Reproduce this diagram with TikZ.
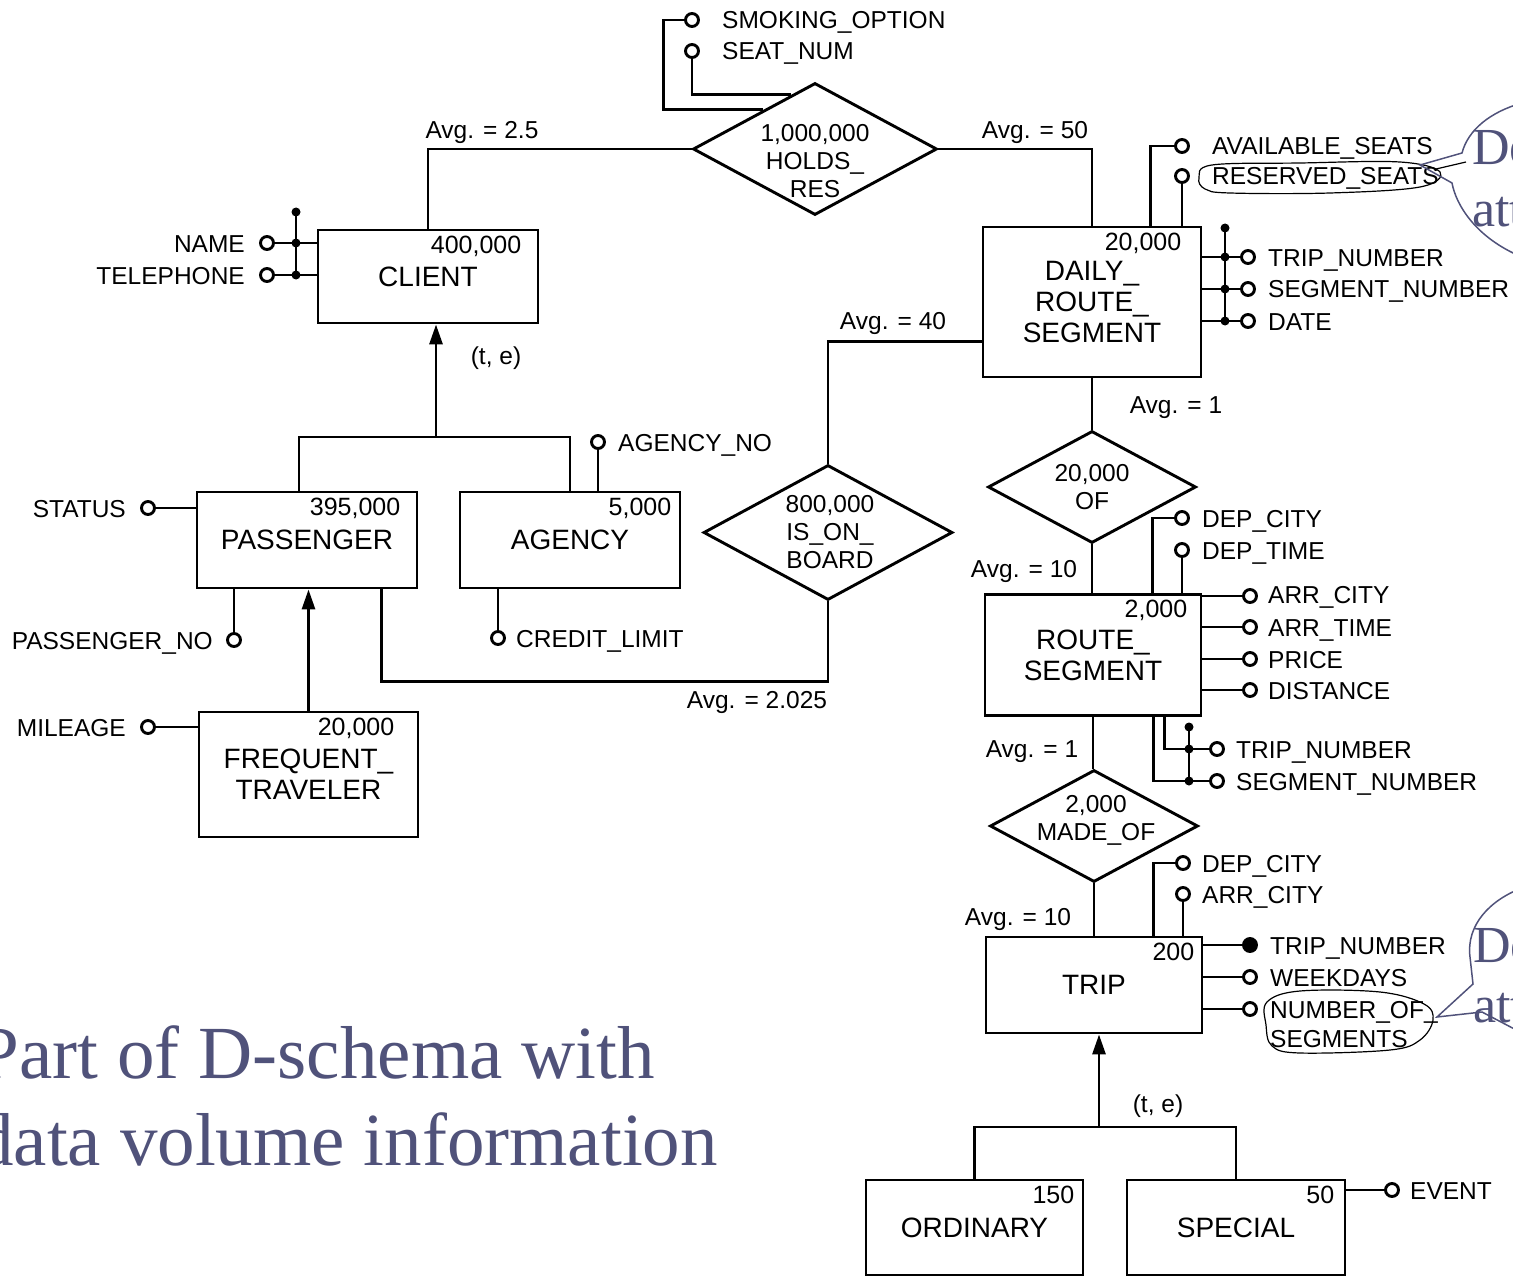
\documentclass[tikz,border=0pt]{standalone}
\usepackage{fontspec}
\setmainfont{Liberation Sans}
\newfontfamily\serifcap{Liberation Serif}
\usetikzlibrary{shapes.geometric,arrows.meta,calc}
\definecolor{capcol}{RGB}{80,82,122}
\tikzset{
  ent/.style={draw, line width=2.9pt, inner sep=0pt, align=center, font=\fontsize{28}{31}\selectfont},
  rel/.style={draw, diamond, line width=2.9pt, inner sep=0pt},
  reltxt/.style={align=center, inner sep=0pt, font=\fontsize{24.5}{28}\selectfont},
  num/.style={anchor=north east, inner sep=0pt, font=\fontsize{25}{27}\selectfont},
  attrc/.style={circle, draw, line width=2.9pt, fill=white, minimum size=13pt, inner sep=0pt},
  keyc/.style={circle, draw, line width=2.9pt, fill=black, minimum size=13pt, inner sep=0pt},
  idd/.style={circle, fill=black, minimum size=9pt, inner sep=0pt},
  lbl/.style={inner sep=0pt, text height=18pt, text depth=0pt, font=\fontsize{24.5}{28}\selectfont},
  avg/.style={inner sep=0pt, text height=18pt, text depth=0pt, font=\fontsize{24.5}{28}\selectfont},
  conn/.style={line width=2.9pt},
  isa/.style={line width=2.9pt, -{Triangle[length=20pt,width=13pt]}},
  hand/.style={line width=1.2pt},
  callout/.style={line width=1.5pt, draw=capcol},
  captxt/.style={text=capcol, inner sep=0pt, font=\serifcap\fontsize{75}{88}\selectfont},
  calltxt/.style={text=capcol, inner sep=0pt, font=\serifcap\fontsize{52}{60}\selectfont},
}
\begin{document}
\begin{tikzpicture}[x=1pt,y=-1pt]
\useasboundingbox (0,0) rectangle (1513,1276);
\clip (0,0) rectangle (1513,1276);

% ---------------- entities ----------------
\node[ent, minimum width=220, minimum height=93] (client) at (428,276.5) {CLIENT};
\node[ent, minimum width=220, minimum height=96] (pass) at (307,540) {PASSENGER};
\node[ent, minimum width=220, minimum height=96] (agency) at (570,540) {AGENCY};
\node[ent, minimum width=219, minimum height=125] (ft) at (308.5,774.5) {FREQUENT\_\\TRAVELER};
\node[ent, minimum width=218, minimum height=150] (drs) at (1092,302) {DAILY\_\\ROUTE\_\\SEGMENT};
\node[ent, minimum width=216, minimum height=121] (rs) at (1093,655) {ROUTE\_\\SEGMENT};
\node[ent, minimum width=216, minimum height=96] (trip) at (1094,985) {TRIP};
\node[ent, minimum width=217, minimum height=95] (ord) at (974.5,1227.5) {ORDINARY};
\node[ent, minimum width=218, minimum height=95] (spec) at (1236,1227.5) {SPECIAL};

\node[num] (clientn) at ($(client.north east)+(-18,7)$) {400,000};
\node[num] (passn) at ($(pass.north east)+(-18,7)$) {395,000};
\node[num] (agencyn) at ($(agency.north east)+(-10,7)$) {5,000};
\node[num] (ftn) at ($(ft.north east)+(-25,7)$) {20,000};
\node[num] (drsn) at ($(drs.north east)+(-21,7)$) {20,000};
\node[num] (rsn) at ($(rs.north east)+(-15,7)$) {2,000};
\node[num] (tripn) at ($(trip.north east)+(-9,7)$) {200};
\node[num] (ordn) at ($(ord.north east)+(-10,7)$) {150};
\node[num] (specn) at ($(spec.north east)+(-12,7)$) {50};

% ---------------- relationships ----------------
\node[rel, minimum width=244, minimum height=132] (hr) at (815,149) {};
\node[reltxt] (hrt) at (815,161) {1,000,000\\HOLDS\_\\RES};
\node[rel, minimum width=249, minimum height=135] (iob) at (828,532.5) {};
\node[reltxt] (iobt) at (830,532) {800,000\\IS\_ON\_\\BOARD};
\node[rel, minimum width=208, minimum height=112] (of) at (1092,487) {};
\node[reltxt] (oft) at (1092,487) {20,000\\OF};
\node[rel, minimum width=208, minimum height=112] (mo) at (1094,826) {};
\node[reltxt] (mot) at (1096,820) {2,000\\MADE\_OF};

% ---------------- relationship connectors ----------------
\draw[conn] (client.north) |- (hr.west);
\draw[conn] (hr.east) -| (drs.north);
\draw[conn] ($(drs.south west)+(0,-37)$) -| (iob.north);
\draw[conn] (iob.south) -- ($(iob.south)+(0,80)$) -| ($(pass.south east)+(-37,0)$);
\draw[conn] (drs.south) -- (drs.south |- of.north);
\draw[conn] (of.south) -- (of.south |- rs.north);
\draw[conn] (rs.south) -- (rs.south |- mo.north);
\draw[conn] (mo.south) -- (mo.south |- trip.north);

\node[avg] (av1) at (482,130) {Avg. = 2.5};
\node[avg] (av2) at (1035,130) {Avg. = 50};
\node[avg] (av3) at (893,320) {Avg. = 40};
\node[avg] (av4) at (757,699) {Avg. = 2.025};
\node[avg] (av5) at (1176,404) {Avg. = 1};
\node[avg] (av6) at (1024,568) {Avg. = 10};
\node[avg] (av7) at (1032,748) {Avg. = 1};
\node[avg] (av8) at (1018,916) {Avg. = 10};

% ---------------- generalizations ----------------
\coordinate (cj) at (436,437);
\draw[isa] (cj) -- (cj |- client.south);
\draw[conn] ($(pass.north)+(-8,0)$) |- (agency.north |- cj) -- (agency.north);
\node[avg] (te1) at (496,355) {(t, e)};
\draw[isa] (ft.north) -- (ft.north |- pass.south);

\coordinate (tj) at (1099,1127);
\draw[isa] (tj) -- (tj |- trip.south);
\draw[conn] (ord.north) |- (spec.north |- tj) -- (spec.north);
\node[avg] (te2) at (1158,1103) {(t, e)};

% ---------------- HOLDS_RES attributes ----------------
\node[attrc] (a1) at (692,20) {};
\node[lbl, anchor=west] (a1l) at (722,20) {SMOKING\_OPTION};
\node[attrc] (a2) at (692,51) {};
\node[lbl, anchor=west] (a2l) at (722,51) {SEAT\_NUM};
\draw[conn] (hr.143) -| ($(a1.west)+(-21,0)$) -- (a1.west);
\draw[conn] (hr.114) -| (a2.south);

% ---------------- DAILY_ROUTE_SEGMENT attributes ----------------
\node[attrc] (a3) at (1182,146) {};
\node[lbl, anchor=west] (a3l) at (1212,146) {AVAILABLE\_SEATS};
\node[attrc] (a4) at (1182,176) {};
\node[lbl, anchor=west] (a4l) at (1212,176) {RESERVED\_SEATS};
\draw[conn] (a3.west) -| ($(drs.north west)+(169,0)$);
\draw[conn] (a4.south) -- (a4.south |- drs.north);

\node[idd] (dd0) at (1225,228) {};
\node[idd] (dd1) at (1225,257) {};
\node[idd] (dd2) at (1225,289) {};
\node[idd] (dd3) at (1225,321) {};
\draw[conn] (dd0.center) -- (dd3.center);
\node[attrc] (a5) at (1248,257) {};
\node[attrc] (a6) at (1248,289) {};
\node[attrc] (a7) at (1248,321) {};
\draw[conn] (a5.west) -- (a5.west -| drs.east);
\draw[conn] (a6.west) -- (a6.west -| drs.east);
\draw[conn] (a7.west) -- (a7.west -| drs.east);
\node[lbl, anchor=west] (a5l) at (1268,257) {TRIP\_NUMBER};
\node[lbl, anchor=west] (a6l) at (1268,289) {SEGMENT\_NUMBER};
\node[lbl, anchor=west] (a7l) at (1268,321) {DATE};

% ---------------- CLIENT attributes ----------------
\node[idd] (cd0) at (296,212) {};
\node[idd] (cd1) at (296,243) {};
\node[idd] (cd2) at (296,275) {};
\node[attrc] (b1) at (267,243) {};
\node[attrc] (b2) at (267,275) {};
\draw[conn] (b1.east) -- (b1.east -| client.west);
\draw[conn] (b2.east) -- (b2.east -| client.west);
\draw[conn] (cd0.center) -- (cd2.center);
\node[lbl, anchor=east] (b1l) at (245,243) {NAME};
\node[lbl, anchor=east] (b2l) at (245,275) {TELEPHONE};

% ---------------- PASSENGER / AGENCY / FT attributes ----------------
\node[attrc] (b3) at (598,442) {};
\draw[conn] (b3.south) -- (b3.south |- agency.north);
\node[lbl, anchor=west] (b3l) at (618,442) {AGENCY\_NO};
\node[attrc] (b4) at (148,508) {};
\draw[conn] (b4.east) -- (b4.east -| pass.west);
\node[lbl, anchor=east] (b4l) at (126,508) {STATUS};
\node[attrc] (b5) at (234,640) {};
\draw[conn] (b5.north) -- (b5.north |- pass.south);
\node[lbl, anchor=east] (b5l) at (213,640) {PASSENGER\_NO};
\node[attrc] (b6) at (498,638) {};
\draw[conn] (b6.north) -- (b6.north |- agency.south);
\node[lbl, anchor=west] (b6l) at (516,638) {CREDIT\_LIMIT};
\node[attrc] (b7) at (148,727) {};
\draw[conn] (b7.east) -- (b7.east -| ft.west);
\node[lbl, anchor=east] (b7l) at (126,727) {MILEAGE};

% ---------------- ROUTE_SEGMENT attributes ----------------
\node[attrc] (c1) at (1182,518) {};
\node[attrc] (c2) at (1182,550) {};
\draw[conn] (c1.west) -| ($(rs.north west)+(169,0)$);
\draw[conn] (c2.south) -- (c2.south |- rs.north);
\node[lbl, anchor=west] (c1l) at (1202,518) {DEP\_CITY};
\node[lbl, anchor=west] (c2l) at (1202,550) {DEP\_TIME};
\node[attrc] (c3) at (1250,596) {};
\node[attrc] (c4) at (1250,627) {};
\node[attrc] (c5) at (1250,659) {};
\node[attrc] (c6) at (1250,690) {};
\draw[conn] (c3.west) -- (c3.west -| rs.east);
\draw[conn] (c4.west) -- (c4.west -| rs.east);
\draw[conn] (c5.west) -- (c5.west -| rs.east);
\draw[conn] (c6.west) -- (c6.west -| rs.east);
\node[lbl, anchor=west] (c3l) at (1268,594) {ARR\_CITY};
\node[lbl, anchor=west] (c4l) at (1268,627) {ARR\_TIME};
\node[lbl, anchor=west] (c5l) at (1268,659) {PRICE};
\node[lbl, anchor=west] (c6l) at (1268,690) {DISTANCE};

\node[idd] (rd0) at (1189,727) {};
\node[idd] (rd1) at (1189,749) {};
\node[idd] (rd2) at (1189,781) {};
\node[attrc] (c7) at (1217,749) {};
\node[attrc] (c8) at (1217,781) {};
\draw[conn] ($(rs.south west)+(181,0)$) |- (c7.west);
\draw[conn] ($(rs.south west)+(170,0)$) |- (c8.west);
\draw[conn] (rd0.center) -- (rd2.center);
\node[lbl, anchor=west] (c7l) at (1236,749) {TRIP\_NUMBER};
\node[lbl, anchor=west] (c8l) at (1236,781) {SEGMENT\_NUMBER};

% ---------------- TRIP attributes ----------------
\node[attrc] (t1) at (1183,863) {};
\node[attrc] (t2) at (1183,894) {};
\draw[conn] (t1.west) -| ($(trip.north west)+(169,0)$);
\draw[conn] (t2.south) -- (t2.south |- trip.north);
\node[lbl, anchor=west] (t1l) at (1202,863) {DEP\_CITY};
\node[lbl, anchor=west] (t2l) at (1202,894) {ARR\_CITY};
\node[keyc] (t3) at (1250,945) {};
\node[attrc] (t4) at (1250,977) {};
\node[attrc] (t5) at (1250,1009) {};
\draw[conn] (t3.west) -- (t3.west -| trip.east);
\draw[conn] (t4.west) -- (t4.west -| trip.east);
\draw[conn] (t5.west) -- (t5.west -| trip.east);
\node[lbl, anchor=west] (t3l) at (1270,945) {TRIP\_NUMBER};
\node[lbl, anchor=west] (t4l) at (1270,977) {WEEKDAYS};
\node[lbl, anchor=west] (t5l) at (1270,1009) {NUMBER\_OF\_};
\node[lbl, anchor=west] (t5m) at (1270,1038) {SEGMENTS};

\node[attrc] (e1) at (1392,1190) {};
\draw[conn] (e1.west) -- (e1.west -| spec.east);
\node[lbl, anchor=west] (e1l) at (1410,1190) {EVENT};

% ---------------- hand-drawn marks ----------------
\draw[hand] plot[smooth cycle, tension=0.6] coordinates {(1199,178) (1212,165) (1300,163) (1400,162) (1440,172) (1420,187) (1330,193) (1230,193) (1205,189)};
\draw[hand] (1436,169) -- (1466,162);
\draw[hand] plot[smooth cycle, tension=0.6] coordinates {(1267,1002) (1300,991) (1380,992) (1424,1004) (1433,1020) (1420,1040) (1390,1050) (1300,1053) (1272,1046) (1266,1025)};

% ---------------- callouts ----------------
\draw[callout] (1522,103) .. controls (1490,112) and (1468,130) .. (1462,153) -- (1420,165) -- (1452,183) .. controls (1456,205) and (1476,238) .. (1522,257);
\node[calltxt, anchor=base west] (co1a) at (1472,165) {De};
\node[calltxt, anchor=base west] (co1b) at (1472,227) {att};
\draw[callout] (1522,888) .. controls (1490,900) and (1466,925) .. (1470,957) -- (1473,984) -- (1437,1017) -- (1482,1012) -- (1522,1033);
\node[calltxt, anchor=base west] (co2a) at (1473,962) {De};
\node[calltxt, anchor=base west] (co2b) at (1473,1022) {att};

% ---------------- caption ----------------
\node[captxt, anchor=base east] (cap1) at (655,1078) {Part of D-schema with};
\node[captxt, anchor=base east] (cap2) at (718,1165) {data volume information};
\end{tikzpicture}
\end{document}
